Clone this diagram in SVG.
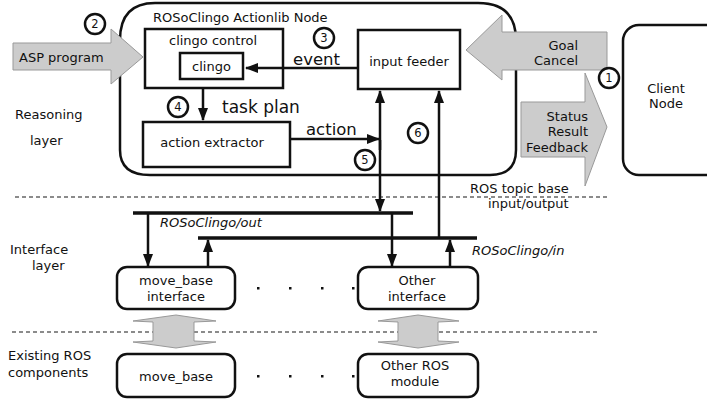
<svg xmlns="http://www.w3.org/2000/svg" width="707" height="400" viewBox="0 0 707 400">
<defs>
<marker id="ah" viewBox="0 0 13 10" refX="12" refY="5" markerWidth="5.2" markerHeight="4" orient="auto" markerUnits="strokeWidth"><path d="M0,0 L13,5 L0,10 Z" fill="#111"/></marker>
<style>
text{font-family:"DejaVu Sans","Liberation Sans",sans-serif;fill:#111;font-size:13px}
.box{fill:#fff;stroke:#111;stroke-width:2.5}
.gray{fill:#ccc;stroke:#999;stroke-width:1}
.con{fill:none;stroke:#111;stroke-width:2.5}
.bar{fill:none;stroke:#111;stroke-width:3.5}
.dash{stroke:#666;stroke-width:1.3;stroke-dasharray:4,3;fill:none}
.num{fill:#fff;stroke:#111;stroke-width:2.5}
.nt{font-size:11.5px;text-anchor:middle}
.big{font-size:16.5px}
.it{font-style:italic}
.mid{text-anchor:middle}
.end{text-anchor:end}
</style>
</defs>
<g id="separators">
<line class="dash" x1="15" y1="197" x2="607" y2="197"/>
<line class="dash" x1="12" y1="332" x2="597" y2="332"/>
</g>
<g id="layer-labels">
<text x="15" y="119">Reasoning</text>
<text x="30" y="145">layer</text>
<text x="10" y="254">Interface</text>
<text x="32" y="270">layer</text>
<text x="8" y="360">Existing ROS</text>
<text x="8" y="377">components</text>
</g>
<g id="actionlib-node">
<path class="box" d="M155,3 H478 Q516,3 516,40 V150 Q516,175 490,175 H150 Q120,175 120,150 V40 Q120,3 155,3 Z"/>
<text x="153" y="22">ROSoClingo Actionlib Node</text>
</g>
<g id="asp-program">
<polygon class="gray" points="13,43 111,43 111,29 143,57 111,84 111,70 13,70"/>
<text x="19" y="62">ASP program</text>
</g>
<g id="clingo-control">
<rect class="box" x="145" y="29" width="138" height="59"/>
<text x="169" y="45">clingo control</text>
</g>
<g id="clingo">
<rect class="box" x="180" y="53" width="63" height="26"/>
<text class="mid" x="211.5" y="71">clingo</text>
</g>
<g id="input-feeder">
<rect class="box" x="358" y="30" width="102" height="59"/>
<text class="mid" x="409" y="66">input feeder</text>
</g>
<g id="action-extractor">
<rect class="box" x="143" y="122" width="147" height="45"/>
<text class="mid" x="212" y="147">action extractor</text>
</g>
<g id="goal-cancel">
<polygon class="gray" points="607,32 502,32 502,15 466,50 502,80 502,70 607,70"/>
<text class="end" x="578" y="50">Goal</text>
<text class="end" x="578" y="65">Cancel</text>
</g>
<g id="status-result">
<polygon class="gray" points="521,102 585,102 585,73 607,127 585,186 585,157 521,157"/>
<text class="end" x="588" y="121">Status</text>
<text class="end" x="588" y="136">Result</text>
<text class="end" x="588" y="152">Feedback</text>
</g>
<g id="client-node">
<rect class="box" x="623" y="25" width="100" height="150" rx="16"/>
<text class="mid" x="666" y="93">Client</text>
<text class="mid" x="666" y="108">Node</text>
</g>
<g id="move-base-interface">
<rect class="box" x="117" y="267" width="118" height="42" rx="10"/>
<text class="mid" x="176" y="285">move_base</text>
<text class="mid" x="176" y="301">interface</text>
</g>
<g id="other-interface">
<rect class="box" x="358" y="267" width="120" height="42" rx="10"/>
<text class="mid" x="417" y="285">Other</text>
<text class="mid" x="417" y="301">interface</text>
</g>
<g id="move-base">
<rect class="box" x="117" y="354" width="118" height="43" rx="10"/>
<text class="mid" x="176" y="381">move_base</text>
</g>
<g id="other-ros-module">
<rect class="box" x="358" y="354" width="120" height="43" rx="10"/>
<text class="mid" x="415" y="370">Other ROS</text>
<text class="mid" x="415" y="386">module</text>
</g>
<g id="ellipsis">
<rect x="257" y="287" width="2.5" height="2.5" fill="#111"/>
<rect x="289" y="287" width="2.5" height="2.5" fill="#111"/>
<rect x="321" y="287" width="2.5" height="2.5" fill="#111"/>
<rect x="352" y="287" width="2.5" height="2.5" fill="#111"/>
<rect x="257" y="375" width="2.5" height="2.5" fill="#111"/>
<rect x="289" y="375" width="2.5" height="2.5" fill="#111"/>
<rect x="321" y="375" width="2.5" height="2.5" fill="#111"/>
<rect x="352" y="375" width="2.5" height="2.5" fill="#111"/>
</g>
<g id="connectors">
<line class="con" x1="358" y1="68" x2="246" y2="68" marker-end="url(#ah)"/>
<text class="big" x="293" y="65">event</text>
<line class="con" x1="203" y1="88" x2="203" y2="120" marker-end="url(#ah)"/>
<text class="big" x="222" y="113" style="font-size:17px">task plan</text>
<line class="con" x1="290" y1="139" x2="379" y2="139" marker-end="url(#ah)"/>
<text class="big" x="306" y="135">action</text>
<line class="con" x1="380" y1="150" x2="380" y2="91" marker-end="url(#ah)"/>
<line class="con" x1="380" y1="140" x2="380" y2="211" marker-end="url(#ah)"/>
<line class="con" x1="439" y1="238" x2="439" y2="91" marker-end="url(#ah)"/>
<line class="bar" x1="133" y1="213" x2="413" y2="213"/>
<line class="bar" x1="198" y1="238" x2="477" y2="238"/>
<line class="con" x1="148" y1="213" x2="148" y2="266" marker-end="url(#ah)"/>
<line class="con" x1="392" y1="213" x2="392" y2="266" marker-end="url(#ah)"/>
<line class="con" x1="208" y1="267" x2="208" y2="240" marker-end="url(#ah)"/>
<line class="con" x1="450" y1="267" x2="450" y2="240" marker-end="url(#ah)"/>
<text class="it" x="160" y="227">ROSoClingo/out</text>
<text class="it" x="472" y="255">ROSoClingo/in</text>
<text x="470" y="193">ROS topic base</text>
<text x="488" y="208">input/output</text>
<polygon class="gray" points="176,315 216,321 194,322 194,341 216,342 176,348 133,342 153,341 153,322 133,321"/>
<polygon class="gray" points="418,315 459,321 438,322 438,341 459,342 418,348 378,342 398,341 398,322 378,321"/>
</g>
<g id="steps">
<circle class="num" cx="95" cy="24" r="10"/><text class="nt" x="95" y="28">2</text>
<circle class="num" cx="324" cy="38" r="10"/><text class="nt" x="324" y="42">3</text>
<circle class="num" cx="178" cy="107" r="10"/><text class="nt" x="178" y="111">4</text>
<circle class="num" cx="365" cy="160" r="10"/><text class="nt" x="365" y="164">5</text>
<circle class="num" cx="418" cy="133" r="10"/><text class="nt" x="418" y="137">6</text>
<circle class="num" cx="609" cy="78" r="10"/><text class="nt" x="609" y="82">1</text>
</g>
</svg>
